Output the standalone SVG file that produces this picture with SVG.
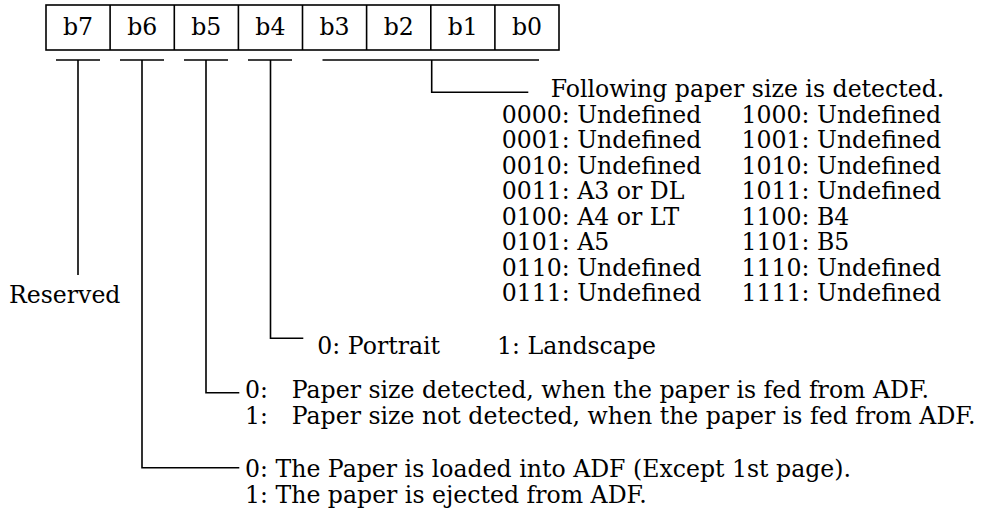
<svg xmlns="http://www.w3.org/2000/svg" width="982" height="510" viewBox="0 0 982 510">
<style>
.ln{fill:none;stroke:#000;stroke-width:1.6}
.t{font-family:"DejaVu Serif","Liberation Serif",serif;font-size:23.6px;fill:#000}
.c{text-anchor:middle}
</style>
<rect width="982" height="510" fill="#fff"/>
<g id="register">
<rect class="ln" x="46" y="5" width="513" height="45"/>
<path class="ln" d="M110.1 5V50M174.3 5V50M238.4 5V50M302.5 5V50M366.6 5V50M430.8 5V50M494.9 5V50"/>
<text class="t c" x="78" y="35">b7</text>
<text class="t c" x="142.2" y="35">b6</text>
<text class="t c" x="206.3" y="35">b5</text>
<text class="t c" x="270.4" y="35">b4</text>
<text class="t c" x="334.5" y="35">b3</text>
<text class="t c" x="398.7" y="35">b2</text>
<text class="t c" x="462.8" y="35">b1</text>
<text class="t c" x="527" y="35">b0</text>
</g>
<g id="connectors">
<path class="ln" d="M56 60H100M120 60H164M184 60H228M248 60H292M322.5 60H539"/>
<path class="ln" d="M78 60V275"/>
<path class="ln" d="M142 60V467.7H239.3"/>
<path class="ln" d="M206 60V392.7H239.3"/>
<path class="ln" d="M270.5 60V338.3H303.3"/>
<path class="ln" d="M431.7 60V92.3H528.3"/>
</g>
<g id="b7-reserved">
<text class="t" x="9" y="303.3">Reserved</text>
</g>
<g id="b3-b0-size">
<text class="t" x="550.7" y="97.3">Following paper size is detected.</text>
<text class="t" x="501.7" y="122.5">0000: Undefined</text>
<text class="t" x="501.7" y="148">0001: Undefined</text>
<text class="t" x="501.7" y="173.5">0010: Undefined</text>
<text class="t" x="501.7" y="199">0011: A3 or DL</text>
<text class="t" x="501.7" y="224.5">0100: A4 or LT</text>
<text class="t" x="501.7" y="250">0101: A5</text>
<text class="t" x="501.7" y="275.5">0110: Undefined</text>
<text class="t" x="501.7" y="301">0111: Undefined</text>
<text class="t" x="741.5" y="122.5">1000: Undefined</text>
<text class="t" x="741.5" y="148">1001: Undefined</text>
<text class="t" x="741.5" y="173.5">1010: Undefined</text>
<text class="t" x="741.5" y="199">1011: Undefined</text>
<text class="t" x="741.5" y="224.5">1100: B4</text>
<text class="t" x="741.5" y="250">1101: B5</text>
<text class="t" x="741.5" y="275.5">1110: Undefined</text>
<text class="t" x="741.5" y="301">1111: Undefined</text>
</g>
<g id="b4-orientation">
<text class="t" x="317.3" y="354">0: Portrait</text>
<text class="t" x="497" y="354">1: Landscape</text>
</g>
<g id="b5-detect">
<text class="t" x="245" y="398">0:</text>
<text class="t" x="291.7" y="398">Paper size detected, when the paper is fed from ADF.</text>
<text class="t" x="245" y="424">1:</text>
<text class="t" x="291.7" y="424">Paper size not detected, when the paper is fed from ADF.</text>
</g>
<g id="b6-load">
<text class="t" x="245" y="476.5">0: The Paper is loaded into ADF (Except 1st page).</text>
<text class="t" x="245" y="502.5">1: The paper is ejected from ADF.</text>
</g>
</svg>
